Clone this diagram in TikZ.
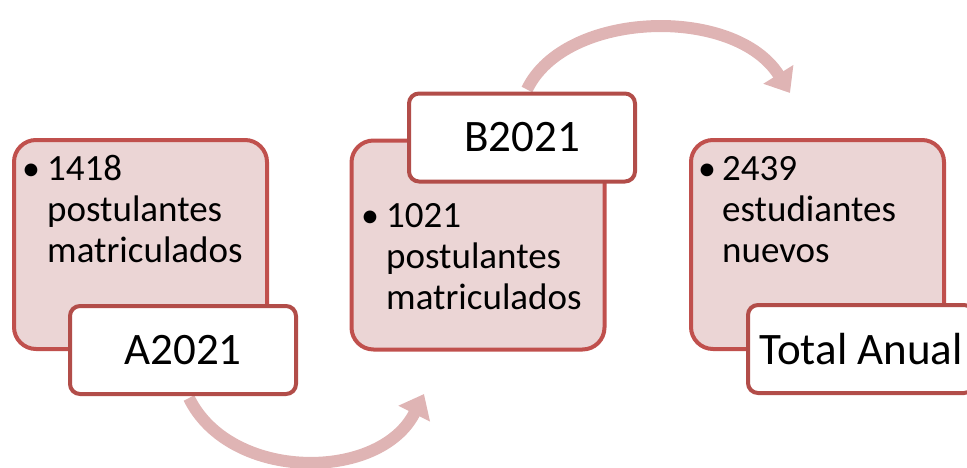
\documentclass[tikz,border=0pt]{standalone}
\usepackage{fontspec}
\setmainfont{Carlito}
\usetikzlibrary{arrows.meta,backgrounds}
\definecolor{panelline}{HTML}{C0504D}
\definecolor{tagline}{HTML}{B24D49}
\definecolor{panelfill}{HTML}{EBD5D5}
\definecolor{flowc}{HTML}{DFB4B4}
\tikzset{
  panel/.style={draw=panelline, fill=panelfill, line width=4pt, rounded corners=22pt,
    minimum width=253pt, minimum height=209pt, inner sep=0pt},
  tag/.style={draw=tagline, fill=white, line width=4pt, rounded corners=10pt,
    minimum width=226pt, minimum height=88pt, inner sep=0pt,
    font=\fontsize{45}{52}\selectfont},
  dotmark/.style={anchor=base, inner sep=0pt, font=\fontsize{36}{41}\selectfont},
  bodytext/.style={anchor=base west, inner sep=0pt, font=\fontsize{37}{41}\selectfont},
  flow/.style={draw=flowc, line width=12pt, -{Triangle[width=34pt,length=22pt]}}
}
\begin{document}
\begin{tikzpicture}[x=1pt,y=-1pt]
\useasboundingbox (0,0) rectangle (967,467);
\clip (0,0) rectangle (967,467);
% panels
\node[panel] (p1) at (140.5,244.5) {};
\node[panel] (p2) at (478,245) {};
\node[panel] (p3) at (817.5,244.5) {};
% bullet texts
\node[dotmark] (d1) at (31,180) {•};
\node[bodytext] (x1) at (47,180) {\begin{tabular}[t]{@{}l@{}}1418\\postulantes\\matriculados\end{tabular}};
\node[dotmark] (d2) at (370,227) {•};
\node[bodytext] (x2) at (386,227) {\begin{tabular}[t]{@{}l@{}}1021\\postulantes\\matriculados\end{tabular}};
\node[dotmark] (d3) at (707,180) {•};
\node[bodytext] (x3) at (722,180) {\begin{tabular}[t]{@{}l@{}}2439\\estudiantes\\nuevos\end{tabular}};
% tags
\node[tag] (t1) at (183,350) {A2021};
\node[tag] (t2) at (522,137.5) {B2021};
\node[tag] (t3) at (861,349) {Total Anual};
% arrow ends
\coordinate (e1) at (424,394);
\coordinate (e2) at (790,93);
\begin{scope}[on background layer]
\draw[flow] ([xshift=6pt,yshift=-2pt]t1.south) .. controls (230,482) and (380,482) .. (e1);
\draw[flow] ([xshift=5pt,yshift=2pt]t2.north) .. controls (565,10) and (735,5) .. (e2);
\end{scope}
\end{tikzpicture}
\end{document}
